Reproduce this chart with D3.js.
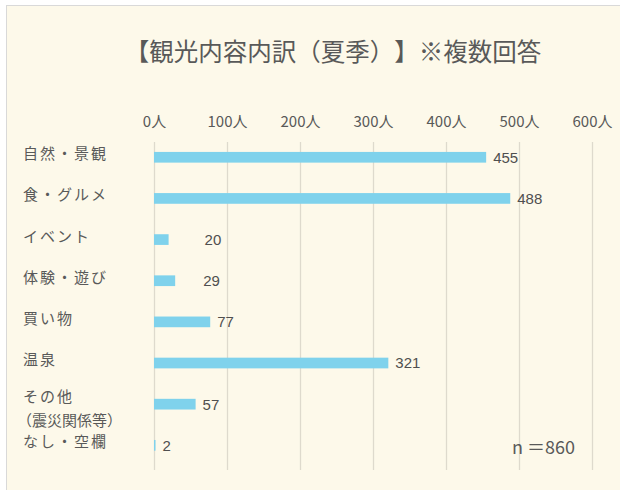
<!DOCTYPE html>
<html>
<head>
<meta charset="utf-8">
<script src="https://cdn.jsdelivr.net/npm/d3@7"></script>
<style>
body { margin:0; background:#ffffff; }
svg { text-spacing-trim:space-all; }
text { font-family:"Noto Sans CJK JP","Noto Sans",sans-serif; fill:#595959; font-kerning:none; text-spacing-trim:space-all; }
.axis .domain { display:none; }
.axis line { stroke:#dedacd; stroke-width:1.3; }
.axis text { font-size:15px; }
.catLabel { font-size:15px; }
.valLabel { font-size:15px; font-family:"Liberation Sans",sans-serif; fill:#4f4f4f; }
</style>
</head>
<body>
<svg class="graph1"></svg>
<script>
var categories = ["自然・景観","食・グルメ","イベント","体験・遊び","買い物","温泉","その他\n（震災関係等）","なし・空欄"];
var counts = [455,488,20,29,77,321,57,2];
var tickValues = [0,100,200,300,400,500,600];
var titleText = "【観光内容内訳（夏季）】※複数回答";
var sampleText = "n ＝860";

var makeTranslateString = function(x,y)
{
    return "translate("+x+","+y+")";
}

var initGraph = function()
{
    //size of screen
    var screen = {width:620,height:490}
    //plot box
    var plot = {left:154,right:592,top:142,bottom:470}

    var svg = d3.select(".graph1")
    .attr("width",screen.width)
    .attr("height",screen.height)

    //cream panel with grey frame
    svg.append("rect")
    .attr("x",6.5)
    .attr("y",5.5)
    .attr("width",screen.width)
    .attr("height",screen.height)
    .attr("fill","#fdf9ea")
    .attr("stroke","#d9d9d9")

    var xScale = d3.scaleLinear()
        .domain([0,600])
        .range([plot.left,plot.right])

    var yScale = d3.scaleBand()
        .domain(categories)
        .range([136.7,465.9])
        .paddingInner(0.74)
        .paddingOuter(0.37)

    var xAxis = d3.axisTop(xScale)
        .tickValues(tickValues)
        .tickSizeInner(-(plot.bottom-plot.top))
        .tickSizeOuter(0)
        .tickPadding(15)
        .tickFormat(function(d){return d+"人";})

    svg.append("g")
    .classed("axis",true)
    .attr("transform",makeTranslateString(0,plot.top))
    .call(xAxis)

    svg.append("g")
    .selectAll("rect")
    .data(counts)
    .enter()
    .append("rect")
    .attr("x",xScale(0))
    .attr("y",function(d,i){return yScale(categories[i]);})
    .attr("width",function(d){return Math.max(xScale(d)-xScale(0),1.5);})
    .attr("height",yScale.bandwidth())
    .attr("fill","#7fd2ec")

    //a couple of labels sit further out in the original
    var labelShift = {"イベント":29,"体験・遊び":21}

    svg.append("g")
    .selectAll("text")
    .data(counts)
    .enter()
    .append("text")
    .classed("valLabel",true)
    .attr("x",function(d,i){return xScale(d)+7+(labelShift[categories[i]]||0);})
    .attr("y",function(d,i){return yScale(categories[i])+yScale.bandwidth()/2;})
    .attr("dy","0.36em")
    .text(function(d){return d;})

    var cats = svg.append("g")
    .selectAll("text")
    .data(categories)
    .enter()
    .append("text")
    .classed("catLabel",true)
    .attr("x",23)
    .attr("y",function(d){
        var c = yScale(d)+yScale.bandwidth()/2;
        return d.indexOf("\n")>=0 ? c-9 : c-5;
    })
    .attr("dominant-baseline","central")

    cats.each(function(d){
        var lines = d.split("\n");
        var t = d3.select(this);
        lines.forEach(function(line,k){
            t.append("tspan")
            .attr("x",k==0?23:17)
            .attr("dy",k==0?0:24)
            .attr("letter-spacing",k==0?2:0)
            .text(line)
        })
    })

    svg.append("text")
    .text(titleText)
    .attr("x",333)
    .attr("y",50)
    .attr("text-anchor","middle")
    .attr("dominant-baseline","central")
    .style("font-size","24.5px")

    svg.append("text")
    .text(sampleText)
    .attr("x",512)
    .attr("y",446)
    .attr("dominant-baseline","central")
    .style("font-size","18px")
}

initGraph();
</script>
</body>
</html>
